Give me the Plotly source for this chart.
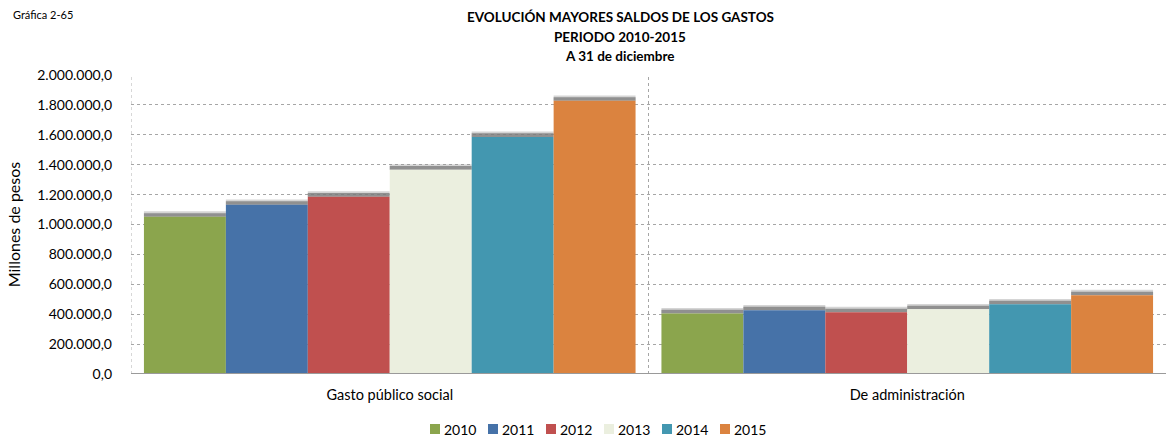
import plotly.graph_objects as go

# Categories, series and values (millones de pesos)
categorias = ["Gasto público social", "De administración"]
anios = ["2010", "2011", "2012", "2013", "2014", "2015"]
colores = ["#8BA54D", "#4672A8", "#C0504F", "#EBEFDF", "#4397B0", "#DB833F"]
gasto_publico_social = [1052000, 1132000, 1186000, 1367000, 1586000, 1827000]
de_administracion = [405000, 426000, 413000, 433000, 466000, 527000]

titulos = ["EVOLUCIÓN MAYORES SALDOS DE LOS GASTOS", "PERIODO 2010-2015", "A 31 de diciembre"]

fuente = "Lato"
W, H = 1166, 439
L, R, T, B = 131, 0, 75, 65
pw, ph = W - L - R, H - T - B


def px_x(px):
    """Horizontal pixel position -> paper fraction."""
    return (px - L) / pw


def px_y(py):
    """Vertical pixel position (from top) -> paper fraction."""
    return (H - B - py) / ph


fig = go.Figure()

for i, anio in enumerate(anios):
    valores = [gasto_publico_social[i], de_administracion[i]]
    # soft grey band sitting on top of each bar
    fig.add_trace(go.Bar(
        x=categorias, y=[36000, 36000], base=valores,
        offsetgroup=anio, marker=dict(color="rgba(150,150,150,0.4)", line=dict(width=0)),
        showlegend=False, hoverinfo="skip",
    ))
    fig.add_trace(go.Bar(
        x=categorias, y=[24000, 24000], base=valores,
        offsetgroup=anio, marker=dict(color="rgba(120,120,120,0.75)", line=dict(width=0)),
        showlegend=False, hoverinfo="skip",
    ))
    fig.add_trace(go.Bar(
        x=categorias, y=valores, name=anio, offsetgroup=anio,
        marker=dict(color=colores[i], line=dict(width=0)), showlegend=False,
    ))

annotations = [
    dict(text="Gráfica 2-65", xref="paper", yref="paper", x=px_x(11), y=px_y(15),
         xanchor="left", yanchor="middle", showarrow=False,
         font=dict(size=11, family=fuente)),
]
for linea, yc in zip(titulos, [17, 37, 56]):
    annotations.append(dict(
        text=f"<b>{linea}</b>", xref="paper", yref="paper",
        x=px_x(620), y=px_y(yc),
        xanchor="center", yanchor="middle", showarrow=False,
        font=dict(size=13.5, family=fuente),
    ))

shapes = [
    dict(type="line", xref="x", yref="paper", x0=-0.5, x1=-0.5, y0=0, y1=1,
         line=dict(color="#b0b0b0", width=1, dash="dot")),
    dict(type="line", xref="x", yref="paper", x0=0.5, x1=0.5, y0=0, y1=1,
         line=dict(color="#a6a6a6", width=1, dash="dot")),
    dict(type="line", xref="paper", yref="y", x0=0, x1=1, y0=0, y1=0,
         line=dict(color="#9a9a9a", width=2)),
]

# legend row under the axis: colour swatch + year label
for i, (anio, color) in enumerate(zip(anios, colores)):
    x0 = 430 + 58 * i
    shapes.append(dict(
        type="rect", xref="paper", yref="paper",
        x0=px_x(x0), x1=px_x(x0 + 10), y0=px_y(434), y1=px_y(424),
        fillcolor=color, line=dict(width=0),
    ))
    annotations.append(dict(
        text=anio, xref="paper", yref="paper", x=px_x(x0 + 12), y=px_y(429),
        xanchor="left", yanchor="middle", showarrow=False,
        font=dict(size=14, family=fuente),
    ))

fig.update_layout(
    width=W, height=H,
    margin=dict(l=L, r=R, t=T, b=B, autoexpand=False),
    paper_bgcolor="white", plot_bgcolor="white",
    barmode="group", bargap=0.05, bargroupgap=0,
    separators=",.",
    font=dict(family=fuente, color="#000000"),
    showlegend=False,
    xaxis=dict(
        range=[-0.5, 1.5], showgrid=False, showline=False, ticks="",
        tickfont=dict(size=14.5, family=fuente), zeroline=False,
        ticklabelstandoff=10,
    ),
    yaxis=dict(
        range=[0, 2000000], dtick=200000, tickformat=",.1f",
        showgrid=True, gridcolor="#a6a6a6", griddash="dot", gridwidth=1,
        zeroline=False, showline=False, ticks="",
        tickfont=dict(size=14, family=fuente), ticklabelstandoff=18,
        title=dict(text="Millones de pesos", font=dict(size=16, family=fuente), standoff=12),
    ),
    shapes=shapes,
    annotations=annotations,
)

fig.write_html("out.html")
